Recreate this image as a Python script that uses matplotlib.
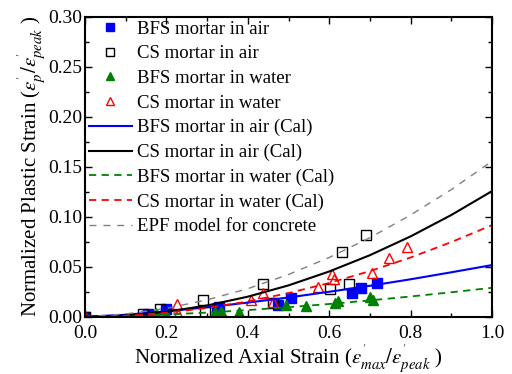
import numpy as np
import matplotlib
matplotlib.use("Agg")
import matplotlib.pyplot as plt
from matplotlib.ticker import MultipleLocator

plt.rcParams['font.family'] = ['Liberation Serif', 'DejaVu Serif']
plt.rcParams['mathtext.fontset'] = 'stix'

# measured points
bfs_air_x = [0.0, 0.155, 0.20, 0.325, 0.33, 0.475, 0.505, 0.655, 0.677, 0.718]
bfs_air_y = [0.0, 0.003, 0.008, 0.007, 0.010, 0.012, 0.019, 0.024, 0.029, 0.034]

cs_air_x = [0.0, 0.143, 0.184, 0.291, 0.295, 0.437, 0.461, 0.602, 0.649, 0.632, 0.690]
cs_air_y = [0.0, 0.003, 0.008, 0.017, 0.005, 0.033, 0.014, 0.028, 0.033, 0.065, 0.082]

bfs_wat_x = [0.0, 0.175, 0.20, 0.32, 0.335, 0.378, 0.493, 0.543, 0.615, 0.622, 0.70, 0.707]
bfs_wat_y = [0.0, 0.004, 0.003, 0.005, 0.006, 0.005, 0.012, 0.011, 0.014, 0.016, 0.020, 0.017]

cs_wat_x = [0.0, 0.225, 0.228, 0.407, 0.438, 0.461, 0.572, 0.608, 0.612, 0.706, 0.748, 0.792]
cs_wat_y = [0.0, 0.013, 0.003, 0.017, 0.024, 0.015, 0.030, 0.043, 0.038, 0.044, 0.059, 0.070]

# calculated curves
cal_x = [0.0, 0.1, 0.2, 0.3, 0.4, 0.5, 0.6, 0.7, 0.8, 0.9, 1.0]
bfs_air_cal = [0.0, 0.002, 0.0055, 0.0095, 0.0142, 0.0193, 0.025, 0.031, 0.0375, 0.0445, 0.0517]
cs_air_cal = [0.0, 0.0013, 0.005, 0.0113, 0.0201, 0.0314, 0.0453, 0.0616, 0.0804, 0.1018, 0.1257]
bfs_wat_cal = [0.0, 0.0007, 0.0023, 0.0042, 0.0067, 0.0096, 0.0128, 0.0164, 0.0203, 0.0245, 0.029]
cs_wat_cal = [0.0, 0.001, 0.004, 0.0088, 0.0153, 0.0237, 0.0338, 0.0457, 0.0593, 0.0747, 0.0917]
epf = [0.0, 0.0028, 0.0084, 0.0169, 0.0281, 0.0423, 0.0593, 0.0791, 0.1018, 0.1272, 0.1556]

fig = plt.figure(figsize=(5.12, 3.74), dpi=100)
ax = fig.add_axes([0.166, 0.153, 0.795, 0.802])

ax.plot(bfs_air_x, bfs_air_y, 's', color='#0000ff', ms=7, label='BFS mortar in air')
ax.plot(cs_air_x, cs_air_y, 's', mfc='none', mec='black', mew=1.0, ms=7, label='CS mortar in air')
ax.plot(bfs_wat_x, bfs_wat_y, '^', color='#008000', ms=7, label='BFS mortar in water')
ax.plot(cs_wat_x, cs_wat_y, '^', mfc='none', mec='#ff0000', mew=1.0, ms=7, label='CS mortar in water')

ax.plot(cal_x, bfs_air_cal, '-', color='#0000ff', lw=1.5, label='BFS mortar in air (Cal)')
ax.plot(cal_x, cs_air_cal, '-', color='black', lw=1.5, label='CS mortar in air (Cal)')
ax.plot(cal_x, bfs_wat_cal, color='#008000', lw=1.3, ls=(0, (4, 3)), label='BFS mortar in water (Cal)')
ax.plot(cal_x, cs_wat_cal, color='#ff0000', lw=1.3, ls=(0, (4, 3)), label='CS mortar in water (Cal)')
ax.plot(cal_x, epf, color='#808080', lw=1.0, ls=(0, (5, 5)), label='EPF model for concrete')

ax.set_xlim(0, 1.0)
ax.set_ylim(0, 0.30)
ax.xaxis.set_major_locator(MultipleLocator(0.2))
ax.xaxis.set_minor_locator(MultipleLocator(0.1))
ax.yaxis.set_major_locator(MultipleLocator(0.05))
ax.yaxis.set_minor_locator(MultipleLocator(0.025))
ax.xaxis.set_major_formatter(plt.FormatStrFormatter('%.1f'))
ax.yaxis.set_major_formatter(plt.FormatStrFormatter('%.2f'))
ax.tick_params(which='both', direction='in', top=True, right=True, labelsize=14, width=1.0)
ax.tick_params(which='major', length=5)
ax.tick_params(axis='y', which='major', pad=2)
ax.tick_params(axis='x', which='major', pad=6)
ax.tick_params(which='minor', length=3)
for s in ax.spines.values():
    s.set_linewidth(1.5)

ax.set_xlabel(r"Normalized Axial Strain ($\varepsilon^{'}_{max}/\varepsilon^{'}_{peak}$ )", fontsize=15, labelpad=0)
ax.set_ylabel(r"Normalized Plastic Strain ($\varepsilon^{'}_{p}/\varepsilon^{'}_{peak}$ )", fontsize=15, labelpad=0)

ax.legend(loc='upper left', frameon=False, fontsize=13.5, labelspacing=0.40,
          handlelength=2.3, handletextpad=0.25, borderaxespad=0.1, markerscale=0.75,
          borderpad=0.1)

fig.savefig('out.png', dpi=100)
